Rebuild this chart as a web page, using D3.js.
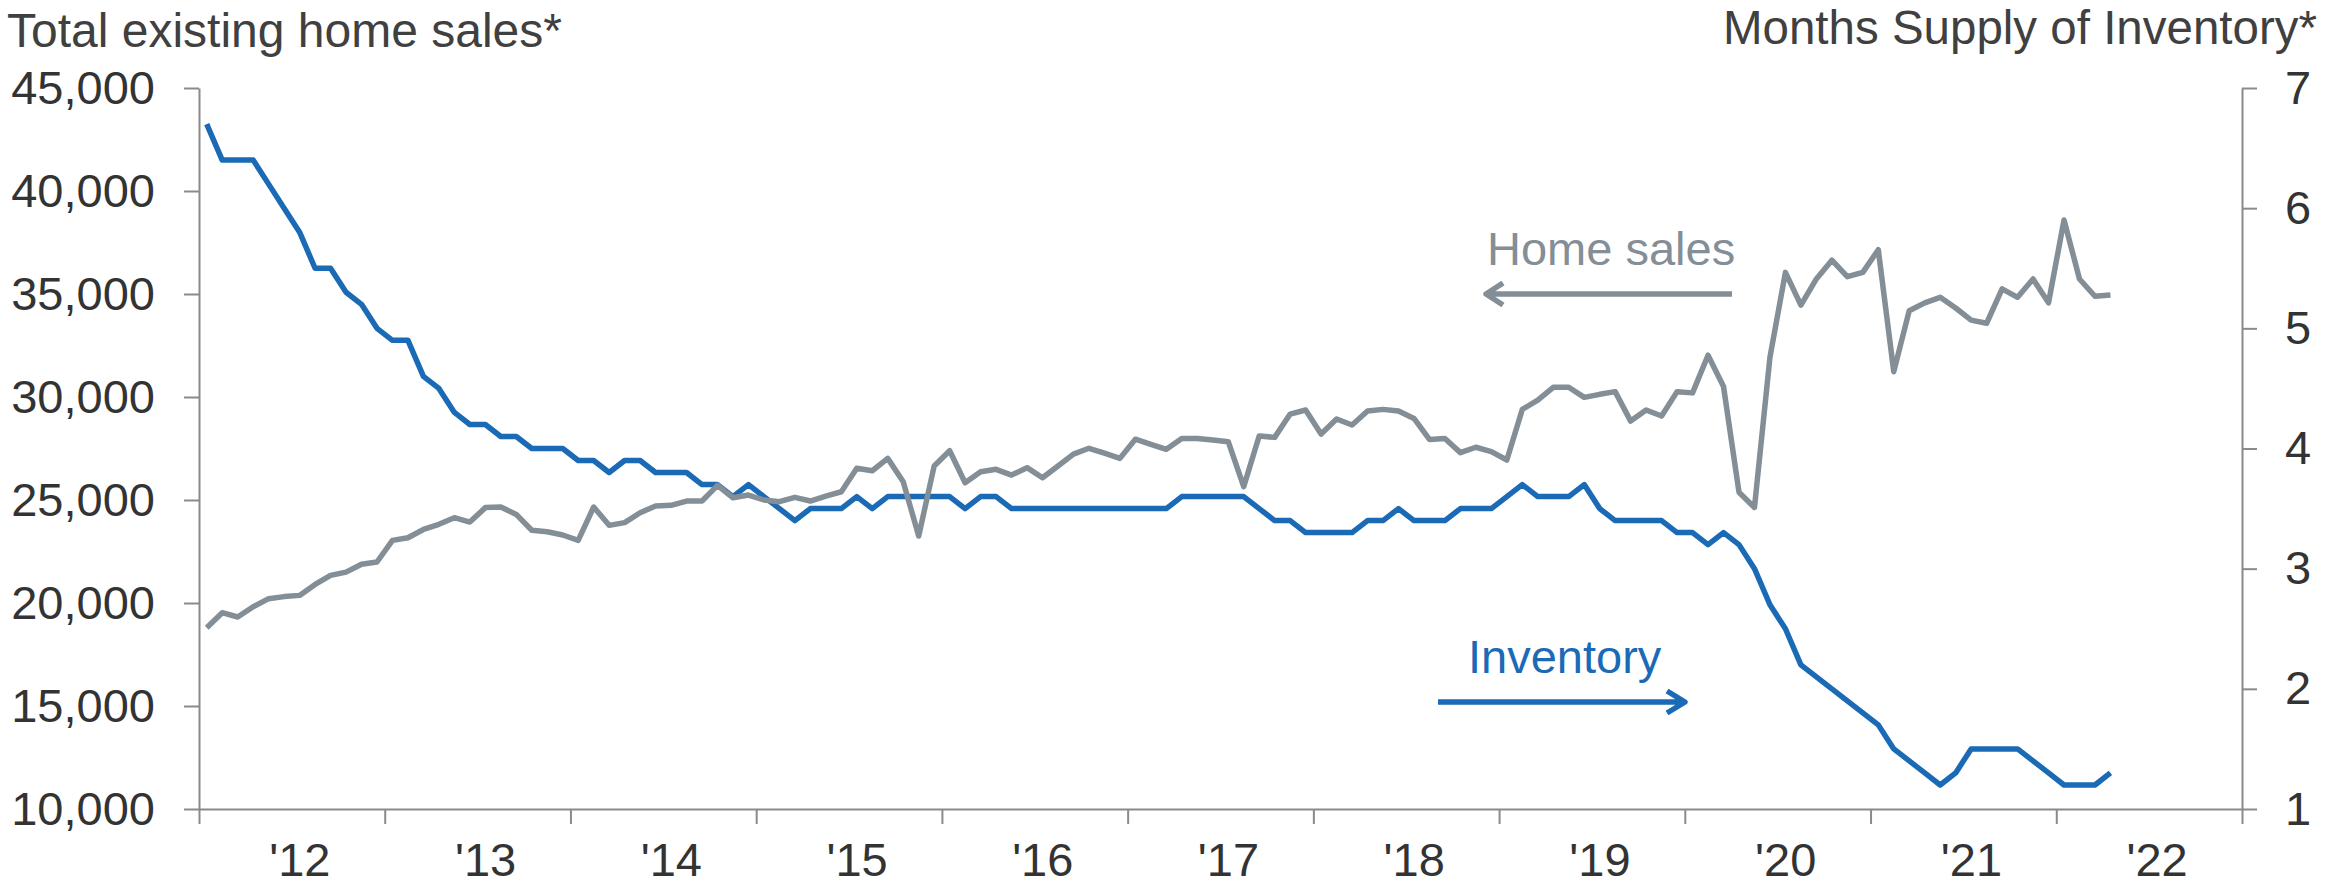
<!DOCTYPE html>
<html>
<head>
<meta charset="utf-8">
<script src="https://cdn.jsdelivr.net/npm/d3@7"></script>
<style>
  body { margin: 0; background: #fff; }
  text { font-family: "Liberation Sans", Arial, sans-serif; }
  .axis path, .axis line { stroke: #8a8a8a; stroke-width: 2px; }
  .axis text { font-size: 47px; fill: #333; }
</style>
</head>
<body>
<div id="chart-area"></div>
<script>
// Monthly data, Jan 2012 - Apr 2022
var homeSales = [
  18800, 19530, 19320, 19820, 20210, 20310, 20370, 20900, 21340, 21500, 21880, 21990,
  23040, 23170, 23570, 23820, 24140, 23930, 24630, 24660, 24300, 23530, 23460, 23300,
  23040, 24660, 23770, 23900, 24380, 24710, 24740, 24950, 24950, 25710, 25110, 25240,
  25000, 24920, 25130, 24950, 25190, 25400, 26540, 26420, 27020, 25890, 23250, 26650,
  27390, 25840, 26370, 26490, 26210, 26570, 26080, 26650, 27230, 27510, 27270, 27020,
  27950, 27700, 27460, 27990, 27990, 27910, 27830, 25650, 28110, 28040, 29170, 29370,
  28200, 28930, 28640, 29320, 29400, 29320, 28960, 27940, 27990, 27300, 27560, 27350,
  26940, 29400, 29850, 30470, 30470, 29980, 30130, 30260, 28830, 29370, 29080, 30260,
  30200, 32030, 30510, 25380, 24640, 31930, 36050, 34460, 35730, 36640, 35840, 36050,
  37150, 31230, 34190, 34570, 34840, 34320, 33730, 33580, 35250, 34840, 35730, 34570,
  38590, 35730, 34890, 34950
];

var monthsSupply = [
  6.7, 6.4, 6.4, 6.4, 6.2, 6.0, 5.8, 5.5, 5.5, 5.3, 5.2, 5.0,
  4.9, 4.9, 4.6, 4.5, 4.3, 4.2, 4.2, 4.1, 4.1, 4.0, 4.0, 4.0,
  3.9, 3.9, 3.8, 3.9, 3.9, 3.8, 3.8, 3.8, 3.7, 3.7, 3.6, 3.7,
  3.6, 3.5, 3.4, 3.5, 3.5, 3.5, 3.6, 3.5, 3.6, 3.6, 3.6, 3.6,
  3.6, 3.5, 3.6, 3.6, 3.5, 3.5, 3.5, 3.5, 3.5, 3.5, 3.5, 3.5,
  3.5, 3.5, 3.5, 3.6, 3.6, 3.6, 3.6, 3.6, 3.5, 3.4, 3.4, 3.3,
  3.3, 3.3, 3.3, 3.4, 3.4, 3.5, 3.4, 3.4, 3.4, 3.5, 3.5, 3.5,
  3.6, 3.7, 3.6, 3.6, 3.6, 3.7, 3.5, 3.4, 3.4, 3.4, 3.4, 3.3,
  3.3, 3.2, 3.3, 3.2, 3.0, 2.7, 2.5, 2.2, 2.1, 2.0, 1.9, 1.8,
  1.7, 1.5, 1.4, 1.3, 1.2, 1.3, 1.5, 1.5, 1.5, 1.5, 1.4, 1.3,
  1.2, 1.2, 1.2, 1.3
];

var yearLabels = ["'12", "'13", "'14", "'15", "'16", "'17", "'18", "'19", "'20", "'21", "'22"];
var salesTicks = [10000, 15000, 20000, 25000, 30000, 35000, 40000, 45000];
var supplyTicks = [1, 2, 3, 4, 5, 6, 7];

var width = 2330, height = 886;
var plotLeft = 199, plotRight = 2242, plotTop = 88, plotBottom = 809;

var svg = d3.select("#chart-area")
    .append("svg")
    .attr("width", width)
    .attr("height", height);

svg.append("rect").attr("width", width).attr("height", height).attr("fill", "#fff");

// Scales (x in months since Jan 2012)
var nMonths = yearLabels.length * 12;
var x = d3.scaleLinear().domain([0, nMonths]).range([plotLeft, plotRight]);
var yL = d3.scaleLinear().domain([10000, 45000]).range([plotBottom, plotTop]);
var yR = d3.scaleLinear().domain([1, 7]).range([plotBottom, plotTop]);

// Axes
svg.append("g")
    .attr("class", "axis")
    .attr("transform", "translate(0," + plotBottom + ")")
    .call(d3.axisBottom(x)
        .tickValues(d3.range(0, nMonths + 1, 12))
        .tickSize(15).tickSizeOuter(0)
        .tickFormat(""));

svg.append("g")
    .attr("class", "axis")
    .attr("transform", "translate(" + plotLeft + ",0)")
    .call(d3.axisLeft(yL)
        .tickValues(salesTicks)
        .tickSize(15).tickSizeOuter(0).tickPadding(29)
        .tickFormat(d3.format(",")));

svg.append("g")
    .attr("class", "axis")
    .attr("transform", "translate(" + plotRight + ",0)")
    .call(d3.axisRight(yR)
        .tickValues(supplyTicks)
        .tickSize(15).tickSizeOuter(0).tickPadding(28)
        .tickFormat(d3.format("d")));

svg.selectAll(".axis .domain").attr("fill", "none");

// Year labels centred in each year
svg.selectAll(".yearlabel").data(yearLabels)
    .enter().append("text")
    .attr("class", "yearlabel")
    .attr("x", function(d, i) { return x(i * 12 + 6) + 8; })
    .attr("y", 876)
    .attr("text-anchor", "middle")
    .attr("font-size", "47px")
    .attr("fill", "#333")
    .text(function(d) { return d; });

// Axis titles
svg.append("text")
    .attr("x", 7).attr("y", 47)
    .attr("font-size", "48px")
    .attr("fill", "#404040")
    .text("Total existing home sales*");

svg.append("text")
    .attr("x", 2317).attr("y", 44)
    .attr("text-anchor", "end")
    .attr("font-size", "47.5px")
    .attr("fill", "#404040")
    .text("Months Supply of Inventory*");

// Lines
var supplyLine = d3.line()
    .x(function(d, i) { return x(i + 0.5); })
    .y(function(d) { return yR(d); });

var salesLine = d3.line()
    .x(function(d, i) { return x(i + 0.5); })
    .y(function(d) { return yL(d); });

var blue = "#1a6ab5", grey = "#838e96";

svg.append("path")
    .attr("d", supplyLine(monthsSupply))
    .attr("fill", "none")
    .attr("stroke", blue)
    .attr("stroke-width", 5.5)
    .attr("stroke-linejoin", "round");

svg.append("path")
    .attr("d", salesLine(homeSales))
    .attr("fill", "none")
    .attr("stroke", grey)
    .attr("stroke-width", 5.5)
    .attr("stroke-linejoin", "round");

// Annotations with arrows
svg.append("text")
    .attr("x", 1487).attr("y", 265)
    .attr("font-size", "47px")
    .attr("fill", grey)
    .text("Home sales");

svg.append("path")
    .attr("d", "M1732,294 L1486,294 M1503,283 L1486,294 L1503,305")
    .attr("fill", "none")
    .attr("stroke", grey)
    .attr("stroke-width", 5.5)
    .attr("stroke-linejoin", "round");

svg.append("text")
    .attr("x", 1468).attr("y", 673)
    .attr("font-size", "47px")
    .attr("fill", blue)
    .text("Inventory");

svg.append("path")
    .attr("d", "M1438,702 L1685,702 M1667,691 L1685,702 L1667,713")
    .attr("fill", "none")
    .attr("stroke", blue)
    .attr("stroke-width", 5.5)
    .attr("stroke-linejoin", "round");
</script>
</body>
</html>
